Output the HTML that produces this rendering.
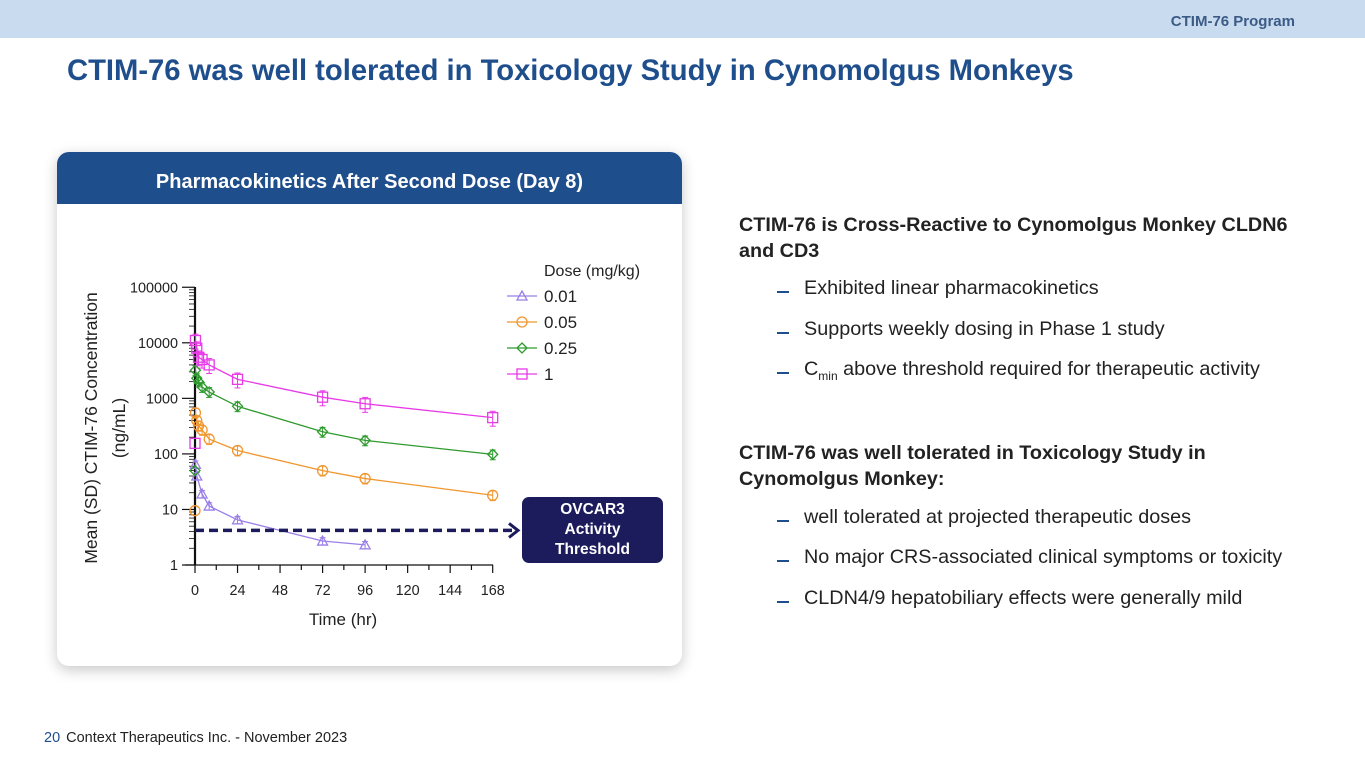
<!DOCTYPE html>
<html><head><meta charset="utf-8"><style>
body{margin:0;width:1365px;height:768px;position:relative;background:#fff;font-family:"Liberation Sans",sans-serif;overflow:hidden}
.abs{position:absolute}
.bul{position:absolute;left:804px;font-size:19.8px;color:#222}
.bul::before{content:"";position:absolute;left:-27px;top:14px;width:12px;height:1.5px;background:#1f4e8c}
</style></head><body>
<div class="abs" style="left:0;top:0;width:1365px;height:38px;background:#c9dbef"></div>
<div class="abs" style="right:70px;top:13px;font-size:15px;font-weight:bold;color:#3b5b85">CTIM-76 Program</div>
<div class="abs" style="left:67px;top:55px;font-size:29.2px;font-weight:bold;color:#1f4e8c">CTIM-76 was well tolerated in Toxicology Study in Cynomolgus Monkeys</div>
<div class="abs" style="left:57px;top:152px;width:625px;height:514px;border-radius:12px;background:#fff;box-shadow:0 4px 14px rgba(0,0,0,0.22);overflow:hidden">
<div style="height:52px;background:#1f4e8c;color:#fff;font-weight:bold;font-size:20px;text-align:center;line-height:60px">Pharmacokinetics After Second Dose (Day 8)</div>
</div>
<svg class="abs" style="left:0;top:0" width="1365" height="768" id="chart"></svg>
<div class="abs" style="left:522px;top:497px;width:141px;height:66px;background:#1c1c5c;border-radius:7px;color:#fff;font-weight:bold;font-size:15.5px;text-align:center;line-height:20px;padding-top:3px;box-sizing:border-box">OVCAR3<br>Activity<br>Threshold</div>

<div class="abs" style="left:739px;top:212px;font-size:19.8px;font-weight:bold;color:#222;line-height:26px;width:570px">CTIM-76 is Cross-Reactive to Cynomolgus Monkey CLDN6 and CD3</div>
<div class="bul" style="top:277px">Exhibited linear pharmacokinetics</div>
<div class="bul" style="top:318px">Supports weekly dosing in Phase 1 study</div>
<div class="bul" style="top:358px">C<sub style="font-size:12px">min</sub> above threshold required for therapeutic activity</div>
<div class="abs" style="left:739px;top:440px;font-size:19.8px;font-weight:bold;color:#222;line-height:26px;width:520px">CTIM-76 was well tolerated in Toxicology Study in Cynomolgus Monkey:</div>
<div class="bul" style="top:506px">well tolerated at projected therapeutic doses</div>
<div class="bul" style="top:546px">No major CRS-associated clinical symptoms or toxicity</div>
<div class="bul" style="top:587px">CLDN4/9 hepatobiliary effects were generally mild</div>
<div class="abs" style="left:44px;top:730px;font-size:14.5px;color:#222"><span style="color:#1f4e8c;margin-right:6px">20</span>Context Therapeutics Inc. - November 2023</div>

<script>
const times=[0.25,1,2,4,8,24,72,96,168];
const doses=["0.01","0.05","0.25","1"];
const colors=["#9b7fe8","#f0962e","#2e9a2e","#e83ae8"];
const markers=["tri","circ","diam","sq"];
const s001=[65,40,null,19,11.5,6.5,2.7,2.3,null];
const s005=[550,400,320,270,185,115,50,36,18];
const s025=[3200,2300,2000,1600,1300,720,250,175,98];
const s1=[11000,8000,5500,5000,4000,2200,1050,800,450];
const predose=[null,9.5,50,155];
const sdFrac=[0.15,0.2,0.2,0.3];
const xTicks=[0,24,48,72,96,120,144,168];
const yTicks=[1,10,100,1000,10000,100000];
const threshold=4.2;
const series=[s001,s005,s025,s1];
const NS="http://www.w3.org/2000/svg";
const svg=document.getElementById('chart');
const X=t=>195+t*(492.7-195)/168;
const Y=v=>565-Math.log10(v)*55.55;
function el(tag,a,p){const e=document.createElementNS(NS,tag);for(const k in a)e.setAttribute(k,a[k]);(p||svg).appendChild(e);return e;}
function mark(type,x,y,c,g){
 const o={fill:"none",stroke:c,"stroke-width":1.3};
 let m;
 if(type=="tri")m=el('polygon',Object.assign({points:`${x},${y-5} ${x-5},${y+4} ${x+5},${y+4}`},o),g);
 else if(type=="circ")m=el('circle',Object.assign({cx:x,cy:y,r:5},o),g);
 else if(type=="diam")m=el('polygon',Object.assign({points:`${x},${y-5} ${x+5},${y} ${x},${y+5} ${x-5},${y}`},o),g);
 else m=el('rect',Object.assign({x:x-5,y:y-5,width:10,height:10},o),g);
 
 
}
const ax=el('g',{stroke:"#111"});
el('line',{x1:195,y1:287,x2:195,y2:565,"stroke-width":2.2},ax);
el('line',{x1:185,y1:565,x2:493,y2:565,"stroke-width":1.3},ax);
yTicks.forEach((v,i)=>{
 el('line',{x1:182,y1:Y(v),x2:195,y2:Y(v),"stroke-width":1.2},ax);
 const t=el('text',{x:178,y:Y(v)+5,"text-anchor":"end","font-size":14.4,fill:"#222",stroke:"none"});t.textContent=v;
 
 if(i<yTicks.length-1)for(let k=2;k<10;k++){el('line',{x1:189,y1:Y(v*k),x2:195,y2:Y(v*k),"stroke-width":0.8},ax);}
});
for(let t=0;t<=168;t+=12)el('line',{x1:X(t),y1:565,x2:X(t),y2:t%24==0?573:570,"stroke-width":1.2},ax);
xTicks.forEach(v=>{const t=el('text',{x:X(v),y:595,"text-anchor":"middle","font-size":14.4,fill:"#222",stroke:"none"});t.textContent=v;
 });
let tt=el('text',{x:343,y:625,"text-anchor":"middle","font-size":17,fill:"#222"});tt.textContent="Time (hr)";

let yt=el('text',{transform:"translate(97,428) rotate(-90)","text-anchor":"middle","font-size":17.5,fill:"#222"});
yt.innerHTML='<tspan x="0" dy="0">Mean (SD) CTIM-76 Concentration</tspan><tspan x="0" dy="28">(ng/mL)</tspan>';

series.forEach((s,i)=>{
 const g=el('g',{});
 
 const pts=[];times.forEach((t,j)=>{if(s[j]!=null)pts.push([X(t),Y(s[j]),s[j]]);});
 el('polyline',{points:pts.map(p=>p[0]+","+p[1]).join(" "),fill:"none",stroke:colors[i],"stroke-width":1.3},g);
 pts.forEach(p=>{
  const hi=Y(p[2]*(1+sdFrac[i])),lo=Y(p[2]*(1-sdFrac[i]));
  el('line',{x1:p[0],y1:hi,x2:p[0],y2:lo,stroke:colors[i],"stroke-width":1},g);
  el('line',{x1:p[0]-3,y1:hi,x2:p[0]+3,y2:hi,stroke:colors[i],"stroke-width":1},g);
  el('line',{x1:p[0]-3,y1:lo,x2:p[0]+3,y2:lo,stroke:colors[i],"stroke-width":1},g);
  mark(markers[i],p[0],p[1],colors[i],g);
 });
 if(predose[i]!=null)mark(markers[i],X(0),Y(predose[i]),colors[i],g);
});
let th=el('line',{x1:195,y1:Y(threshold),x2:515,y2:Y(threshold),stroke:"#1c1c5c","stroke-width":3.5,"stroke-dasharray":"9,5"});

el('polyline',{points:`509,${Y(threshold)-7} 518,${Y(threshold)} 509,${Y(threshold)+7}`,fill:"none",stroke:"#1c1c5c","stroke-width":3});
const lg=el('g',{});
let lt=el('text',{x:544,y:276,"font-size":16,fill:"#222"},lg);lt.textContent="Dose (mg/kg)";
doses.forEach((d,i)=>{const y=296+i*26;
 el('line',{x1:507,y1:y,x2:537,y2:y,stroke:colors[i],"stroke-width":1.3},lg);
 mark(markers[i],522,y,colors[i],lg);
 const t=el('text',{x:544,y:y+6,"font-size":17,fill:"#222"},lg);t.textContent=d;
 });
</script>
</body></html>
